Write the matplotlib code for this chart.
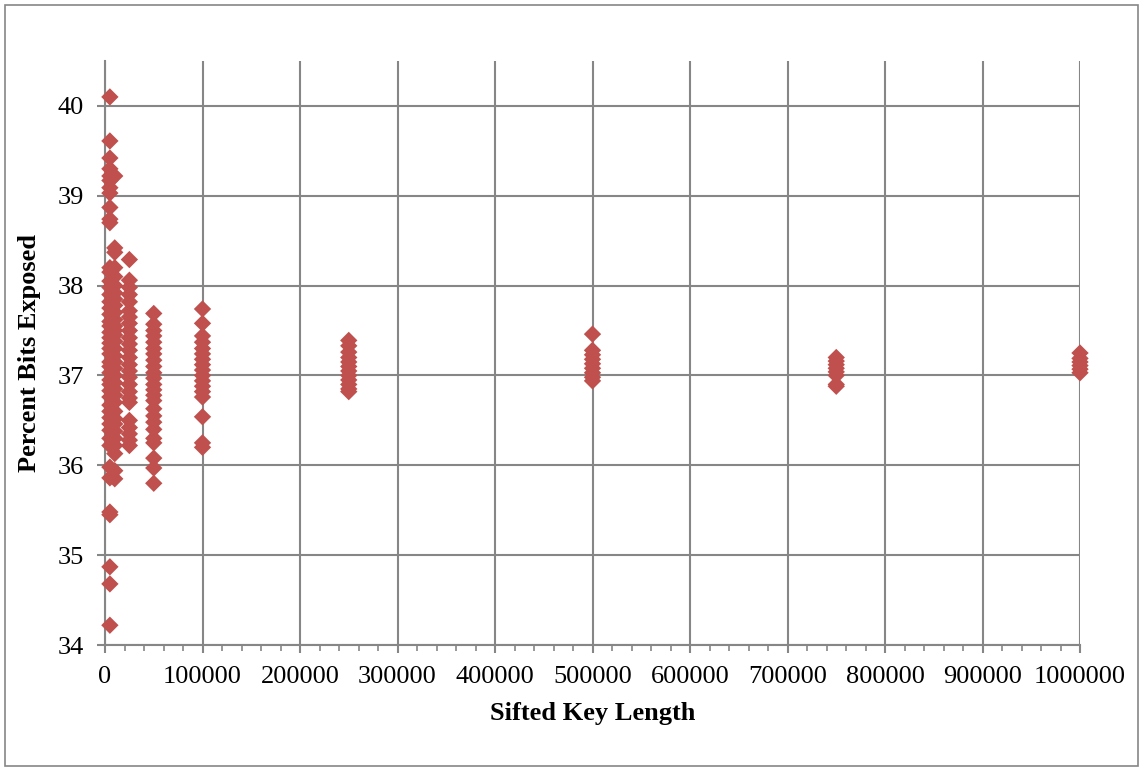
import matplotlib
matplotlib.use('Agg')
import matplotlib.pyplot as plt
from matplotlib.patches import Rectangle
from matplotlib.ticker import MultipleLocator, FormatStrFormatter

# Percent bits exposed, one list per sifted key length
key_lengths = [5000, 10000, 25000, 50000, 100000, 250000, 500000, 750000, 1000000]

pct_5k = [40.1, 39.61, 39.42, 39.3, 39.22, 39.17, 39.09, 39.03, 38.87, 38.74, 38.7,
          38.2, 38.15, 38.05, 37.98, 37.9, 37.82, 37.75, 37.68, 37.6, 37.55, 37.48,
          37.42, 37.36, 37.3, 37.24, 37.15, 37.1, 37.03, 36.95, 36.9, 36.83, 36.76,
          36.67, 36.6, 36.53, 36.46, 36.39, 36.3, 36.22, 35.98, 35.86, 35.48, 35.45,
          34.87, 34.68, 34.22]
pct_10k = [39.22, 38.42, 38.37, 38.2, 38.1, 38.0, 37.92, 37.85, 37.78, 37.7, 37.62,
           37.55, 37.5, 37.45, 37.38, 37.3, 37.22, 37.15, 37.08, 37.0, 36.92, 36.85,
           36.78, 36.7, 36.6, 36.52, 36.46, 36.38, 36.3, 36.22, 36.13, 35.94, 35.85]
pct_25k = [38.29, 38.06, 37.98, 37.9, 37.82, 37.72, 37.65, 37.58, 37.5, 37.42, 37.35,
           37.28, 37.2, 37.12, 37.05, 36.98, 36.9, 36.82, 36.75, 36.7, 36.5, 36.42,
           36.35, 36.28, 36.22]
pct_50k = [37.69, 37.57, 37.5, 37.44, 37.37, 37.3, 37.24, 37.17, 37.1, 37.03, 36.97,
           36.9, 36.84, 36.78, 36.72, 36.63, 36.55, 36.48, 36.4, 36.3, 36.25, 36.08,
           35.97, 35.8]
pct_100k = [37.74, 37.58, 37.44, 37.37, 37.3, 37.24, 37.18, 37.12, 37.06, 37.0, 36.94,
            36.88, 36.82, 36.76, 36.54, 36.25, 36.2]
pct_250k = [37.39, 37.33, 37.26, 37.2, 37.15, 37.1, 37.05, 37.0, 36.95, 36.9, 36.85, 36.82]
pct_500k = [37.46, 37.28, 37.23, 37.18, 37.13, 37.08, 37.03, 36.98, 36.94]
pct_750k = [37.2, 37.16, 37.12, 37.08, 37.04, 37.0, 36.9, 36.88]
pct_1m = [37.25, 37.19, 37.15, 37.11, 37.07, 37.03]

columns = [pct_5k, pct_10k, pct_25k, pct_50k, pct_100k, pct_250k, pct_500k, pct_750k, pct_1m]

xs = []
ys = []
for k, vals in zip(key_lengths, columns):
    xs += [k] * len(vals)
    ys += vals

plt.rcParams['font.family'] = ['Liberation Serif', 'DejaVu Serif']
grid_col = '#868686'

fig = plt.figure(figsize=(11.42, 7.68), dpi=100)
ax = fig.add_axes([105 / 1142, 123 / 768, 975 / 1142, 584 / 768])

# outer chart border
fig.patches.append(Rectangle((5 / 1142, 2 / 768), 1133 / 1142, 761 / 768,
                             transform=fig.transFigure, fill=False,
                             edgecolor=grid_col, linewidth=1.2))

ax.scatter(xs, ys, marker='D', s=78, color='#C0504D', edgecolors='none', zorder=3,
           clip_on=False)

ax.set_xlim(0, 1000000)
ax.set_ylim(34, 40.5)
ax.xaxis.set_major_locator(MultipleLocator(100000))
ax.xaxis.set_minor_locator(MultipleLocator(20000))
ax.xaxis.set_major_formatter(FormatStrFormatter('%d'))
ax.yaxis.set_major_locator(MultipleLocator(1))
ax.yaxis.set_major_formatter(FormatStrFormatter('%d'))

ax.grid(True, which='major', color=grid_col, linewidth=1.5)
ax.set_axisbelow(True)
for s in ['top', 'right']:
    ax.spines[s].set_visible(False)
for s in ['left', 'bottom']:
    ax.spines[s].set_color(grid_col)
    ax.spines[s].set_linewidth(1.5)

ax.tick_params(axis='both', which='major', direction='out', length=6, width=1.5,
               color=grid_col, labelsize=19, pad=9)
ax.tick_params(axis='x', which='minor', direction='out', length=4, width=1.2, color=grid_col)

ax.set_xlabel('Sifted Key Length', fontsize=19, fontweight='bold', labelpad=10)
ax.set_ylabel('Percent Bits Exposed', fontsize=19, fontweight='bold', labelpad=12)

fig.savefig('out.png', dpi=100)
